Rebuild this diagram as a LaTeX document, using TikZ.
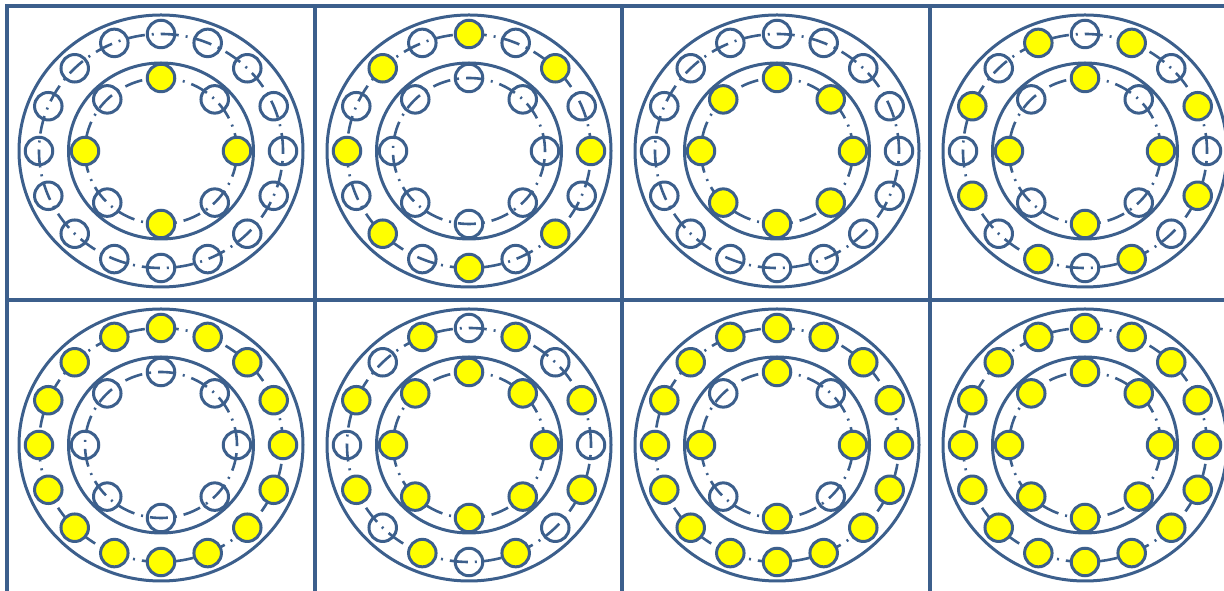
\documentclass[tikz,border=0pt]{standalone}
\usepackage{tikz}

\definecolor{ringblue}{RGB}{60,95,140}
\definecolor{ballyellow}{RGB}{255,255,0}

\begin{document}
\begin{tikzpicture}[
  x=1pt, y=1pt,
  every node/.style={inner sep=0pt},
  hole/.style={circle, draw=ringblue, line width=3pt, minimum size=27.5pt},
  ball/.style={hole, fill=ballyellow},
  shell/.style={draw=ringblue, line width=3pt},
  track/.style={draw=ringblue, line width=2.6pt,
                dash pattern=on 18pt off 7pt on 2pt off 7pt},
  frame/.style={draw=ringblue, line width=3.4pt},
]
  \useasboundingbox (0,0) rectangle (1224,591);
  \clip (0,0) rectangle (1224,591);
  % cell grid
  \coordinate (g0) at (7,585);
  \coordinate (g1) at (1240,585);
  \coordinate (g2) at (7,291);
  \coordinate (g3) at (1240,291);
  \draw[frame] (g0) -- (g1);
  \draw[frame] (g2) -- (g3);
  \foreach \gx [count=\n] in {7,315,622,930}{
    \coordinate (v\n t) at (\gx,586.7);
    \coordinate (v\n b) at (\gx,-5);
    \draw[frame] (v\n t) -- (v\n b);
  }
  % one bearing per cell: outer mode (0 none, 1 even, 2 odd, 3 all), inner mode (0 none, 1 cardinal, 3 all)
  \foreach \k/\cx/\cy/\om/\im in {1/161/440/0/1, 2/469/440/1/0, 3/777/440/0/3, 4/1085/440/2/1,
                                  5/161/146/3/0, 6/469/146/2/3, 7/777/146/3/1, 8/1085/146/3/3}{
    \coordinate (c\k) at (\cx,\cy);
    \draw[shell] (c\k) ellipse [x radius=142, y radius=136];
    \draw[shell] (c\k) ellipse [x radius=92.5, y radius=88];
    \draw[track] (c\k) ellipse [x radius=122, y radius=117];
    \draw[track] (c\k) ellipse [x radius=76, y radius=73];
    \begin{scope}[shift={(c\k)}]
      \foreach \i in {0,...,15}{
        \pgfmathtruncatemacro{\on}{(\om==3) || ((\om==1) && (mod(\i,2)==0)) || ((\om==2) && (mod(\i,2)==1))}
        \ifnum\on=1
          \node[ball] (o\k-\i) at ({22.5*\i}:122 and 117) {};
        \else
          \node[hole] (o\k-\i) at ({22.5*\i}:122 and 117) {};
        \fi
      }
      \foreach \j in {0,...,7}{
        \pgfmathtruncatemacro{\on}{(\im==3) || ((\im==1) && (mod(\j,2)==0))}
        \ifnum\on=1
          \node[ball] (i\k-\j) at ({45*\j}:76 and 73) {};
        \else
          \node[hole] (i\k-\j) at ({45*\j}:76 and 73) {};
        \fi
      }
    \end{scope}
  }
\end{tikzpicture}
\end{document}
